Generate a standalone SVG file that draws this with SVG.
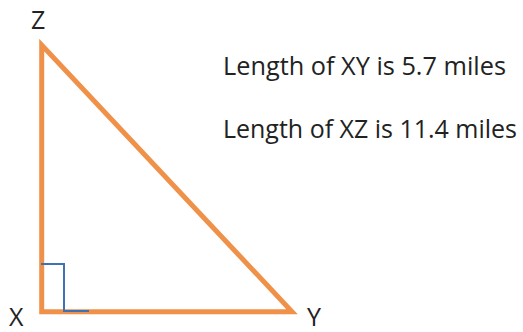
<svg xmlns="http://www.w3.org/2000/svg" width="523" height="332" viewBox="0 0 523 332">
<style>
text{font-family:"Open Sans","Liberation Sans",sans-serif;fill:#222;font-size:25px}
.lbl{font-size:25px}
</style>
<rect width="523" height="332" fill="#fff"/>
<g id="triangle">
<path d="M41.7,45 L41.7,311.7 L292,311.7 Z" fill="none" stroke="#F0914A" stroke-width="5" stroke-linejoin="miter" stroke-miterlimit="20"/>
</g>
<g id="right-angle">
<path d="M41,264 H64 V311 H89" fill="none" stroke="#3F72B5" stroke-width="2"/>
</g>
<g id="vertex-Z"><text x="31" y="29" class="lbl">Z</text></g>
<g id="vertex-X"><text x="9" y="326" class="lbl">X</text></g>
<g id="vertex-Y"><text x="307" y="326" class="lbl">Y</text></g>
<g id="info">
<text x="223" y="75" textLength="283" lengthAdjust="spacingAndGlyphs">Length of XY is 5.7 miles</text>
<text x="223" y="138" textLength="294" lengthAdjust="spacingAndGlyphs">Length of XZ is 11.4 miles</text>
</g>
</svg>
